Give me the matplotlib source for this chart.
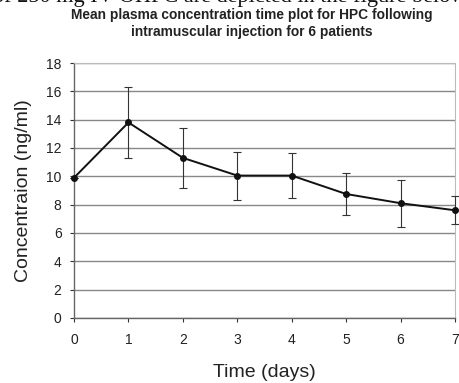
import matplotlib
matplotlib.use("Agg")
import matplotlib.pyplot as plt

days = [0, 1, 2, 3, 4, 5, 6, 7]
conc = [9.9, 13.8, 11.3, 10.05, 10.05, 8.75, 8.1, 7.6]
err = [0.0, 2.5, 2.1, 1.7, 1.6, 1.45, 1.65, 1.0]
yticks = [0, 2, 4, 6, 8, 10, 12, 14, 16, 18]

plt.rcParams['font.family'] = ['Liberation Sans', 'DejaVu Sans']

fig = plt.figure(figsize=(4.6, 3.83), dpi=100)
ax = fig.add_axes([0.161, 0.170, 0.828, 0.6655])

# clipped line of surrounding document text at the very top
fig.text(0.5, 0.9948, "of 250 mg IV OHPC are depicted in the figure below",
         ha='center', va='baseline', fontsize=16,
         family=['Liberation Serif', 'DejaVu Serif'], color='#111111')

ax.errorbar(days, conc, yerr=err, color='#111111', lw=1.4, marker='o',
            markersize=4, ecolor='#333333', elinewidth=0.8, capsize=3,
            capthick=0.8, zorder=3, clip_on=False)

ax.set_xlim(0, 7)
ax.set_ylim(0, 18)
ax.set_yticks(yticks)
ax.set_xticks(days)
ax.yaxis.grid(True, color='#888888', lw=1.0)
ax.set_axisbelow(True)

for s in ['top', 'right']:
    ax.spines[s].set_color('#bbbbbb')
    ax.spines[s].set_linewidth(0.8)
for s in ['left', 'bottom']:
    ax.spines[s].set_color('#666666')
    ax.spines[s].set_linewidth(1.0)

ax.tick_params(axis='both', labelsize=10, colors='#333333', length=3,
               width=0.8)
ax.tick_params(axis='x', pad=8)
ax.tick_params(axis='y', pad=6)
for lab in ax.get_xticklabels() + ax.get_yticklabels():
    lab.set_color('#222222')

ax.set_xlabel("Time (days)", fontsize=14, color='#222222', labelpad=12)
ax.set_ylabel("Concentraion (ng/ml)", fontsize=14, color='#222222',
              labelpad=10)

fig.text(0.548, 0.938,
         "Mean plasma concentration time plot for HPC following\n"
         "intramuscular injection for 6 patients",
         ha='center', va='center', fontsize=9.9, fontweight='bold',
         color='#222222', linespacing=1.25)

fig.savefig("out.png", dpi=100)
